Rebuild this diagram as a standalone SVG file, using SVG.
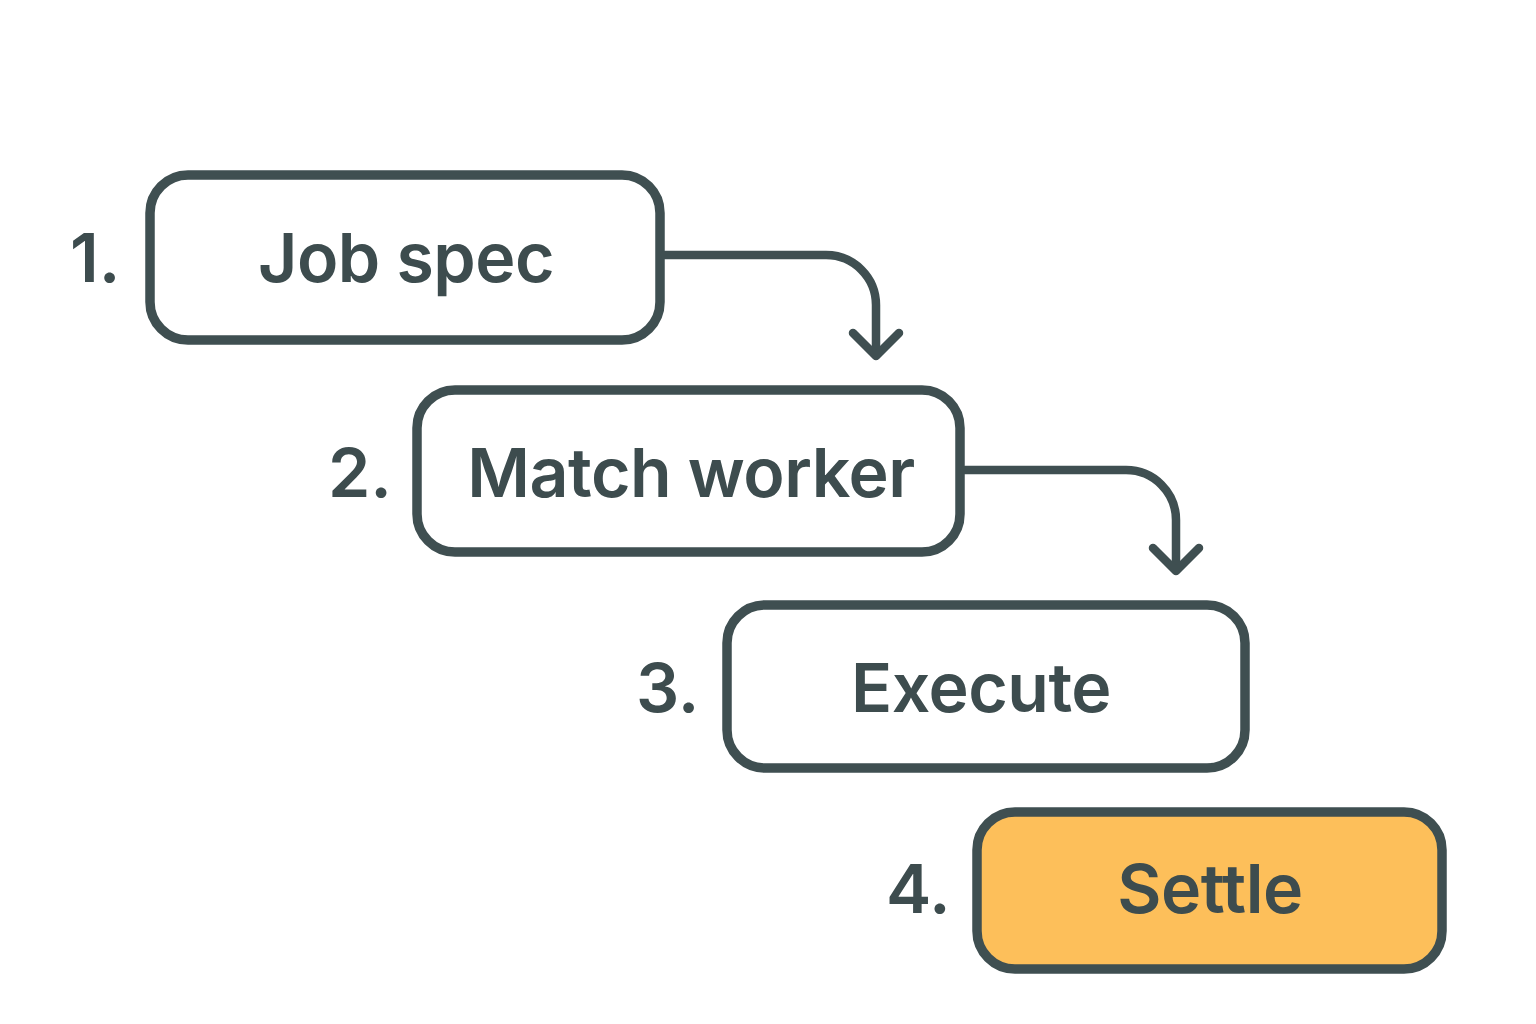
<svg xmlns="http://www.w3.org/2000/svg" width="1536" height="1024" viewBox="0 0 1536 1024">
<style>
.box{fill:#ffffff;stroke:#3f4f51;stroke-width:9.5}
.hl{fill:#fdbf5a}
.lbl{font-family:Inter,"Liberation Sans",sans-serif;font-weight:600;font-size:68px;fill:#3d4c4e;text-anchor:middle;letter-spacing:-0.5px}
.num{font-family:Inter,"Liberation Sans",sans-serif;font-weight:600;font-size:68px;fill:#3d4c4e;text-anchor:start}
.conn{fill:none;stroke:#3f4f51;stroke-width:8.5;stroke-linecap:round;stroke-linejoin:round}
</style>
<rect width="1536" height="1024" fill="#ffffff"/>
<g id="node1">
<rect class="box" x="150" y="175" width="510" height="165" rx="38"/>
<text class="lbl" x="406" y="282">Job spec</text>
<text class="num" x="70" y="282">1.</text>
</g>
<g id="node2">
<rect class="box" x="417" y="390" width="543" height="162" rx="38"/>
<text class="lbl" x="691" y="497">Match worker</text>
<text class="num" x="328" y="497">2.</text>
</g>
<g id="node3">
<rect class="box" x="727" y="605" width="518" height="163" rx="38"/>
<text class="lbl" x="981" y="712">Execute</text>
<text class="num" x="636" y="712">3.</text>
</g>
<g id="node4">
<rect class="box hl" x="977" y="812" width="465" height="157" rx="38"/>
<text class="lbl" x="1210" y="913">Settle</text>
<text class="num" x="886" y="913">4.</text>
</g>
<g id="connectors">
<path class="conn" d="M665 255 H826 A50 50 0 0 1 876 305 V355"/>
<path class="conn" d="M853 333 L876 356 L899 333"/>
<path class="conn" d="M965 470 H1126 A50 50 0 0 1 1176 520 V570"/>
<path class="conn" d="M1153 548 L1176 571 L1199 548"/>
</g>
</svg>
